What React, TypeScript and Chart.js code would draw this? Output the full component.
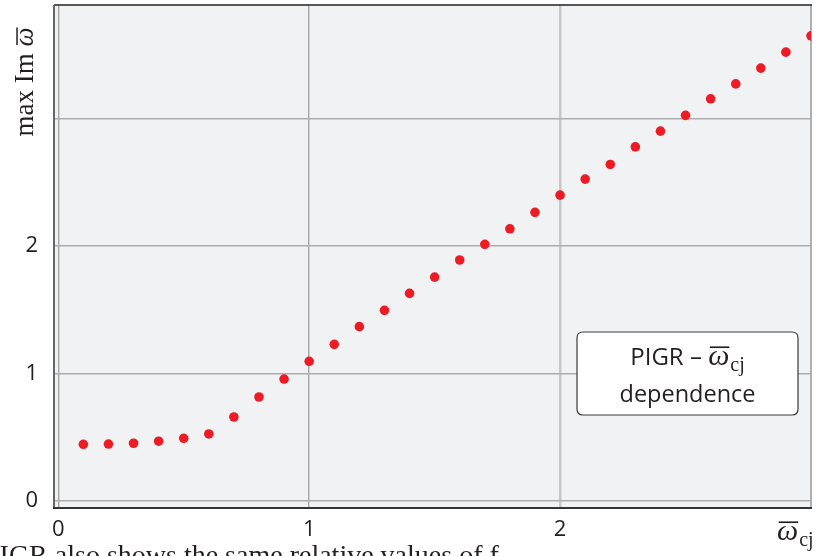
import React, { useEffect, useRef } from "react";
import { Chart, registerables } from "chart.js";

Chart.register(...registerables);

const xValues = [0.1, 0.2, 0.3, 0.4, 0.5, 0.6, 0.7, 0.8, 0.9, 1.0, 1.1, 1.2, 1.3, 1.4, 1.5, 1.6, 1.7, 1.8, 1.9, 2.0, 2.1, 2.2, 2.3, 2.4, 2.5, 2.6, 2.7, 2.8, 2.9, 3.0];
const yValues = [0.443, 0.445, 0.451, 0.467, 0.49, 0.524, 0.657, 0.814, 0.955, 1.094, 1.227, 1.366, 1.494, 1.627, 1.755, 1.889, 2.012, 2.134, 2.263, 2.398, 2.524, 2.639, 2.777, 2.9, 3.024, 3.154, 3.271, 3.395, 3.52, 3.648];
const xTicks = [0, 1, 2, 3];
const yTicks = [0, 1, 2, 3];
const xTickLabels = ["0", "1", "2", ""];
const yTickLabels = ["0", "1", "2", ""];
const legendLine1 = "PIGR \u2013 ";
const legendLine2 = "dependence";
const yTitle = "max Im ";
const bottomText = "PIGR also shows the same relative values of f";

const SANS = "'Open Sans', 'Noto Sans', sans-serif";
const SERIF = "'Liberation Serif', 'DejaVu Serif', serif";

function drawOmegaBar(ctx: CanvasRenderingContext2D, x: number, baseline: number, size: number, sub: string, subSize: number) {
  ctx.save();
  ctx.font = `italic ${size}px ${SERIF}`;
  ctx.textBaseline = "alphabetic";
  ctx.textAlign = "left";
  ctx.fillText("\u03c9", x, baseline);
  const w = ctx.measureText("\u03c9").width;
  ctx.fillRect(x + w * 0.08, baseline - size * 0.62, w * 0.92, Math.max(1.2, size * 0.055));
  ctx.font = `${subSize}px ${SERIF}`;
  ctx.fillText(sub, x + w + 1, baseline + subSize * 0.3);
  const sw = ctx.measureText(sub).width;
  ctx.restore();
  return w + 1 + sw;
}

const decorPlugin = {
  id: "decor",
  beforeDraw(chart: any) {
    const { ctx, chartArea } = chart;
    ctx.save();
    ctx.fillStyle = "#ffffff";
    ctx.fillRect(0, 0, chart.width, chart.height);
    ctx.fillStyle = "#f1f2f4";
    ctx.fillRect(chartArea.left, chartArea.top, chartArea.right - chartArea.left, chartArea.bottom - chartArea.top);
    ctx.restore();
  },
  beforeDatasetsDraw(chart: any) {
    const { ctx, chartArea } = chart;
    const { left, right, top, bottom } = chartArea;
    ctx.save();
    ctx.lineCap = "butt";
    ctx.strokeStyle = "#b0b0b0";
    ctx.lineWidth = 2;
    ctx.beginPath();
    ctx.moveTo(right, top);
    ctx.lineTo(right, bottom);
    ctx.stroke();
    ctx.strokeStyle = "#222222";
    ctx.lineWidth = 1.5;
    ctx.beginPath();
    ctx.moveTo(left, top);
    ctx.lineTo(right + 1, top);
    ctx.stroke();
    ctx.strokeStyle = "#666666";
    ctx.lineWidth = 2;
    ctx.beginPath();
    ctx.moveTo(left, top);
    ctx.lineTo(left, bottom + 1);
    ctx.stroke();
    ctx.strokeStyle = "#333333";
    ctx.lineWidth = 2;
    ctx.beginPath();
    ctx.moveTo(left - 1, bottom);
    ctx.lineTo(right + 1, bottom);
    ctx.stroke();
    ctx.restore();
  },
  afterDraw(chart: any) {
    const { ctx } = chart;
    ctx.save();
    ctx.fillStyle = "#231f20";
    // y-axis title
    ctx.save();
    ctx.translate(33, 82);
    ctx.rotate(-Math.PI / 2);
    ctx.font = `27px ${SERIF}`;
    ctx.textBaseline = "alphabetic";
    const tw = ctx.measureText(yTitle).width;
    ctx.font = `italic 27px ${SERIF}`;
    const ow = ctx.measureText("\u03c9").width;
    const total = tw + ow;
    ctx.font = `27px ${SERIF}`;
    ctx.fillText(yTitle, -total / 2, 0);
    drawOmegaBar(ctx, -total / 2 + tw, 0, 27, "", 18);
    ctx.restore();

    // x-axis title
    drawOmegaBar(ctx, 777, 540, 30, "cj", 20);

    // legend box
    const bx = 577, by = 332, bw = 221, bh = 83, r = 6;
    ctx.beginPath();
    ctx.moveTo(bx + r, by);
    ctx.lineTo(bx + bw - r, by);
    ctx.quadraticCurveTo(bx + bw, by, bx + bw, by + r);
    ctx.lineTo(bx + bw, by + bh - r);
    ctx.quadraticCurveTo(bx + bw, by + bh, bx + bw - r, by + bh);
    ctx.lineTo(bx + r, by + bh);
    ctx.quadraticCurveTo(bx, by + bh, bx, by + bh - r);
    ctx.lineTo(bx, by + r);
    ctx.quadraticCurveTo(bx, by, bx + r, by);
    ctx.closePath();
    ctx.fillStyle = "#ffffff";
    ctx.fill();
    ctx.strokeStyle = "#3a3a3a";
    ctx.lineWidth = 1.2;
    ctx.stroke();
    ctx.fillStyle = "#231f20";
    ctx.font = `24px ${SANS}`;
    ctx.textBaseline = "alphabetic";
    const l1w = ctx.measureText(legendLine1).width;
    ctx.font = `italic 30px ${SERIF}`;
    const omw = ctx.measureText("\u03c9").width;
    ctx.font = `20px ${SERIF}`;
    const cjw = ctx.measureText("cj").width;
    const lineW = l1w + omw + 1 + cjw;
    const cx = bx + bw / 2;
    ctx.font = `24px ${SANS}`;
    ctx.textAlign = "left";
    ctx.fillText(legendLine1, cx - lineW / 2, by + 33);
    drawOmegaBar(ctx, cx - lineW / 2 + l1w, by + 33, 30, "cj", 20);
    ctx.font = `23.5px ${SANS}`;
    ctx.textAlign = "center";
    ctx.fillText(legendLine2, cx, by + 70);

    // clipped document text at the bottom
    ctx.textAlign = "left";
    ctx.font = `28px ${SERIF}`;
    ctx.fillStyle = "#231f20";
    ctx.fillText(bottomText, -16, 564);
    ctx.restore();
  },
};

export default function App() {
  const canvasRef = useRef<HTMLCanvasElement | null>(null);

  useEffect(() => {
    const canvas = canvasRef.current;
    if (!canvas) return;
    const chart = new Chart(canvas, {
      type: "scatter",
      data: {
        datasets: [
          {
            label: "PIGR",
            data: xValues.map((x, i) => ({ x, y: yValues[i] })),
            backgroundColor: "#ed1c24",
            borderColor: "#ed1c24",
            pointRadius: 4.8,
            pointBorderWidth: 0,
            showLine: false,
          },
        ],
      },
      options: {
        responsive: false,
        animation: false,
        layout: { padding: { left: 0, right: 6, top: 5, bottom: 0 } },
        plugins: { legend: { display: false }, tooltip: { enabled: false } },
        scales: {
          x: {
            type: "linear",
            min: -0.017,
            max: 3.0,
            afterBuildTicks: (scale: any) => {
              scale.ticks = xTicks.map((v) => ({ value: v }));
            },
            afterFit: (scale: any) => {
              scale.height = 48;
              scale.paddingLeft = 0;
              scale.paddingRight = 0;
              scale.paddingTop = 0;
              scale.paddingBottom = 0;
            },
            grid: {
              color: (c: any) => (c.tick && c.tick.value === 2 ? "#c8c8c8" : "#a6a6a6"),
              lineWidth: (c: any) => (c.tick && c.tick.value === 2 ? 2.5 : 1.4),
              drawTicks: false,
            },
            border: { display: false },
            ticks: {
              padding: 9,
              color: "#231f20",
              font: { family: SANS, size: 22 },
              maxRotation: 0,
              autoSkip: false,
              callback: (v: any) => {
                const i = xTicks.indexOf(Number(v));
                return i >= 0 ? xTickLabels[i] : "";
              },
            },
          },
          y: {
            type: "linear",
            min: -0.057,
            max: 3.89,
            afterBuildTicks: (scale: any) => {
              scale.ticks = yTicks.map((v) => ({ value: v }));
            },
            afterFit: (scale: any) => {
              scale.width = 54;
              scale.paddingLeft = 0;
              scale.paddingRight = 0;
              scale.paddingTop = 0;
              scale.paddingBottom = 0;
            },
            grid: { color: "#adadad", lineWidth: 1.4, drawTicks: false },
            border: { display: false },
            ticks: {
              padding: 16,
              color: "#231f20",
              font: { family: SANS, size: 22 },
              autoSkip: false,
              callback: (v: any) => {
                const i = yTicks.indexOf(Number(v));
                return i >= 0 ? yTickLabels[i] : "";
              },
            },
          },
        },
      },
      plugins: [decorPlugin],
    });
    return () => chart.destroy();
  }, []);

  return (
    <div style={{ position: "absolute", left: 0, top: 0, width: 817, height: 556, background: "#fff" }}>
      <canvas ref={canvasRef} width={817} height={556} style={{ display: "block", width: 817, height: 556 }} />
    </div>
  );
}
